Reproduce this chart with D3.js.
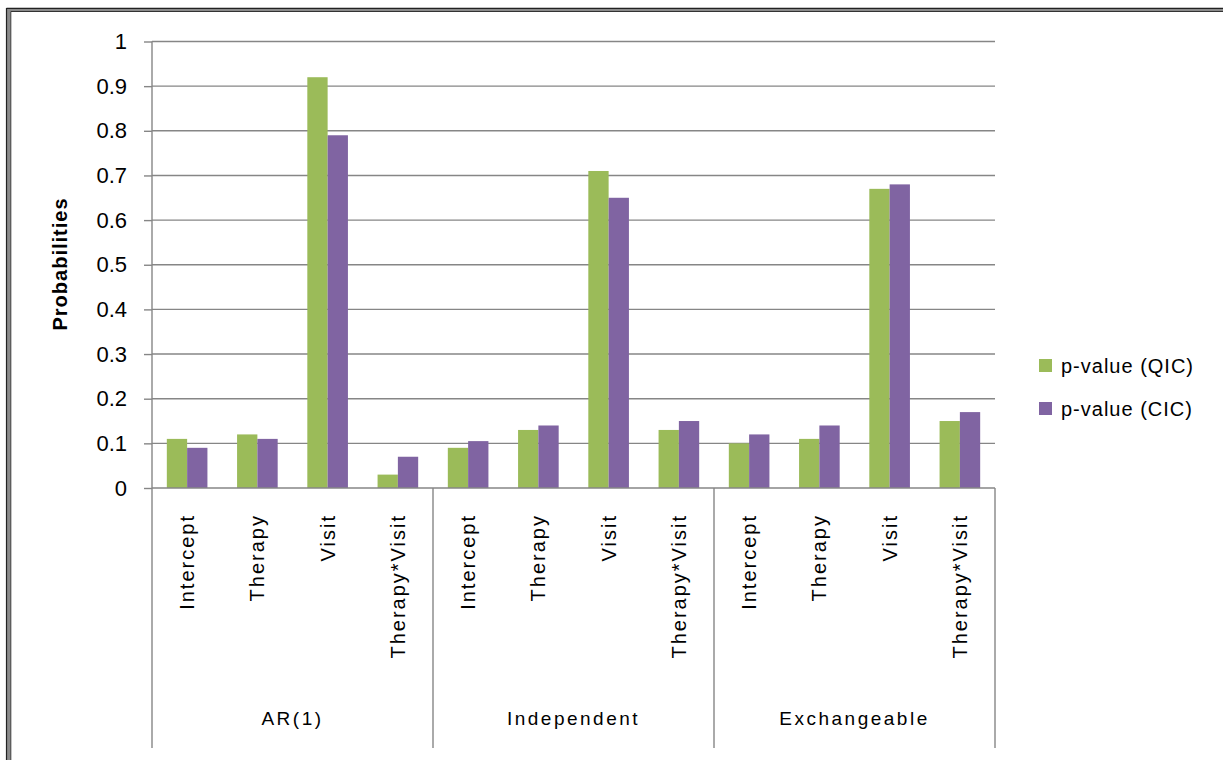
<!DOCTYPE html>
<html>
<head>
<meta charset="utf-8">
<script src="https://cdn.jsdelivr.net/npm/d3@7"></script>
<style>
  html, body { margin: 0; padding: 0; background: #ffffff; }
  svg { display: block; }
  text { font-family: "Liberation Sans", Arial, sans-serif; fill: #000; }
</style>
</head>
<body>
<svg id="chart" width="1223" height="760"></svg>
<script>
// Correlation structures and model terms
const groups = ["AR(1)", "Independent", "Exchangeable"];
const terms = ["Intercept", "Therapy", "Visit", "Therapy*Visit"];

// p-values per term, grouped by correlation structure
const qicValues = [0.11, 0.12, 0.92, 0.03,  0.09, 0.13, 0.71, 0.13,  0.10, 0.11, 0.67, 0.15];
const cicValues = [0.09, 0.11, 0.79, 0.07,  0.105, 0.14, 0.65, 0.15,  0.12, 0.14, 0.68, 0.17];

const seriesNames = ["p-value (QIC)", "p-value (CIC)"];
const seriesColors = ["#9BBB59", "#8064A2"];

const yTickValues = [0, 0.1, 0.2, 0.3, 0.4, 0.5, 0.6, 0.7, 0.8, 0.9, 1];
const yTickLabels = ["0", "0.1", "0.2", "0.3", "0.4", "0.5", "0.6", "0.7", "0.8", "0.9", "1"];

const svg = d3.select("#chart");
const gridColor = "#868686";

// outer frame (top and left edges)
const frame = svg.append("g");
frame.append("path").attr("d", "M8.5,760 V9.5 H1223")
  .attr("fill", "none").attr("stroke", "#8a8a8a").attr("stroke-width", 4);
frame.append("path").attr("d", "M6.5,760 V8.5 H1223")
  .attr("fill", "none").attr("stroke", "#222").attr("stroke-width", 1.2);
frame.append("path").attr("d", "M10.8,760 V11.5 H1223")
  .attr("fill", "none").attr("stroke", "#333").attr("stroke-width", 1);

// layout
const plot = { left: 152, right: 995, top: 41.5, bottom: 488 };

const rows = [];
groups.forEach((g, gi) => terms.forEach((t, ti) => {
  const i = gi * terms.length + ti;
  rows.push({ id: i, group: g, term: t, values: [qicValues[i], cicValues[i]] });
}));

const x = d3.scaleBand()
  .domain(rows.map(d => d.id))
  .range([plot.left, plot.right])
  .padding(0);

const xInner = d3.scaleBand()
  .domain([0, 1])
  .range([0, x.bandwidth()])
  .paddingInner(0)
  .paddingOuter(0.73);

const y = d3.scaleLinear().domain([0, 1]).range([plot.bottom, plot.top]);

// horizontal gridlines
svg.append("g").selectAll("line")
  .data(yTickValues.filter(v => v > 0))
  .join("line")
  .attr("x1", plot.left).attr("x2", plot.right)
  .attr("y1", d => y(d)).attr("y2", d => y(d))
  .attr("stroke", gridColor).attr("stroke-width", 1.4);

// y axis
const yAxis = d3.axisLeft(y)
  .tickValues(yTickValues)
  .tickFormat((d, i) => yTickLabels[i])
  .tickSize(8)
  .tickPadding(17);
const yg = svg.append("g").attr("transform", `translate(${plot.left},0)`).call(yAxis);
yg.select(".domain").attr("stroke", gridColor).attr("stroke-width", 1.4)
  .attr("d", `M0,${plot.top}V${plot.bottom}`);
yg.selectAll(".tick line").attr("stroke", gridColor).attr("stroke-width", 1.4);
yg.selectAll(".tick text")
  .style("font-family", "'Liberation Sans', Arial, sans-serif")
  .style("font-size", "22px").attr("fill", "#000");

// bars
const barGroups = svg.append("g").selectAll("g")
  .data(rows).join("g")
  .attr("transform", d => `translate(${x(d.id)},0)`);
barGroups.selectAll("rect")
  .data(d => d.values.map((v, si) => ({ v, si })))
  .join("rect")
  .attr("x", d => xInner(d.si))
  .attr("width", xInner.bandwidth())
  .attr("y", d => y(d.v))
  .attr("height", d => y(0) - y(d.v))
  .attr("fill", d => seriesColors[d.si]);

// category axis line
svg.append("line")
  .attr("x1", plot.left).attr("x2", plot.right)
  .attr("y1", plot.bottom).attr("y2", plot.bottom)
  .attr("stroke", gridColor).attr("stroke-width", 1.4);

// group separators below the axis
const sepX = [0, 4, 8, 12].map(i => i < 12 ? x(i) : plot.right);
svg.append("g").selectAll("line")
  .data(sepX).join("line")
  .attr("x1", d => d).attr("x2", d => d)
  .attr("y1", plot.bottom).attr("y2", 748)
  .attr("stroke", gridColor).attr("stroke-width", 1.4);

// term labels (rotated)
svg.append("g").selectAll("text")
  .data(rows).join("text")
  .attr("transform", d => `translate(${x(d.id) + x.bandwidth() / 2 + 7},514) rotate(-90)`)
  .attr("text-anchor", "end")
  .style("font-size", "20px")
  .style("letter-spacing", "2px")
  .text(d => d.term);

// group labels
svg.append("g").selectAll("text")
  .data(groups).join("text")
  .attr("x", (d, gi) => (x(gi * 4) + (gi < 2 ? x(gi * 4 + 4) : plot.right)) / 2)
  .attr("y", 725)
  .attr("text-anchor", "middle")
  .style("font-size", "19px")
  .style("letter-spacing", "2.5px")
  .text(d => d);

// y axis title
svg.append("text")
  .attr("transform", "translate(67,264) rotate(-90)")
  .attr("text-anchor", "middle")
  .style("font-size", "20px")
  .style("font-weight", "bold")
  .style("letter-spacing", "1px")
  .text("Probabilities");

// legend
const legend = svg.append("g").selectAll("g")
  .data(seriesNames).join("g")
  .attr("transform", (d, i) => `translate(1039,${359 + i * 43})`);
legend.append("rect")
  .attr("width", 13).attr("height", 13)
  .attr("fill", (d, i) => seriesColors[i]);
legend.append("text")
  .attr("x", 22).attr("y", 14)
  .style("font-size", "20px")
  .style("letter-spacing", "1px")
  .text(d => d);
</script>
</body>
</html>
